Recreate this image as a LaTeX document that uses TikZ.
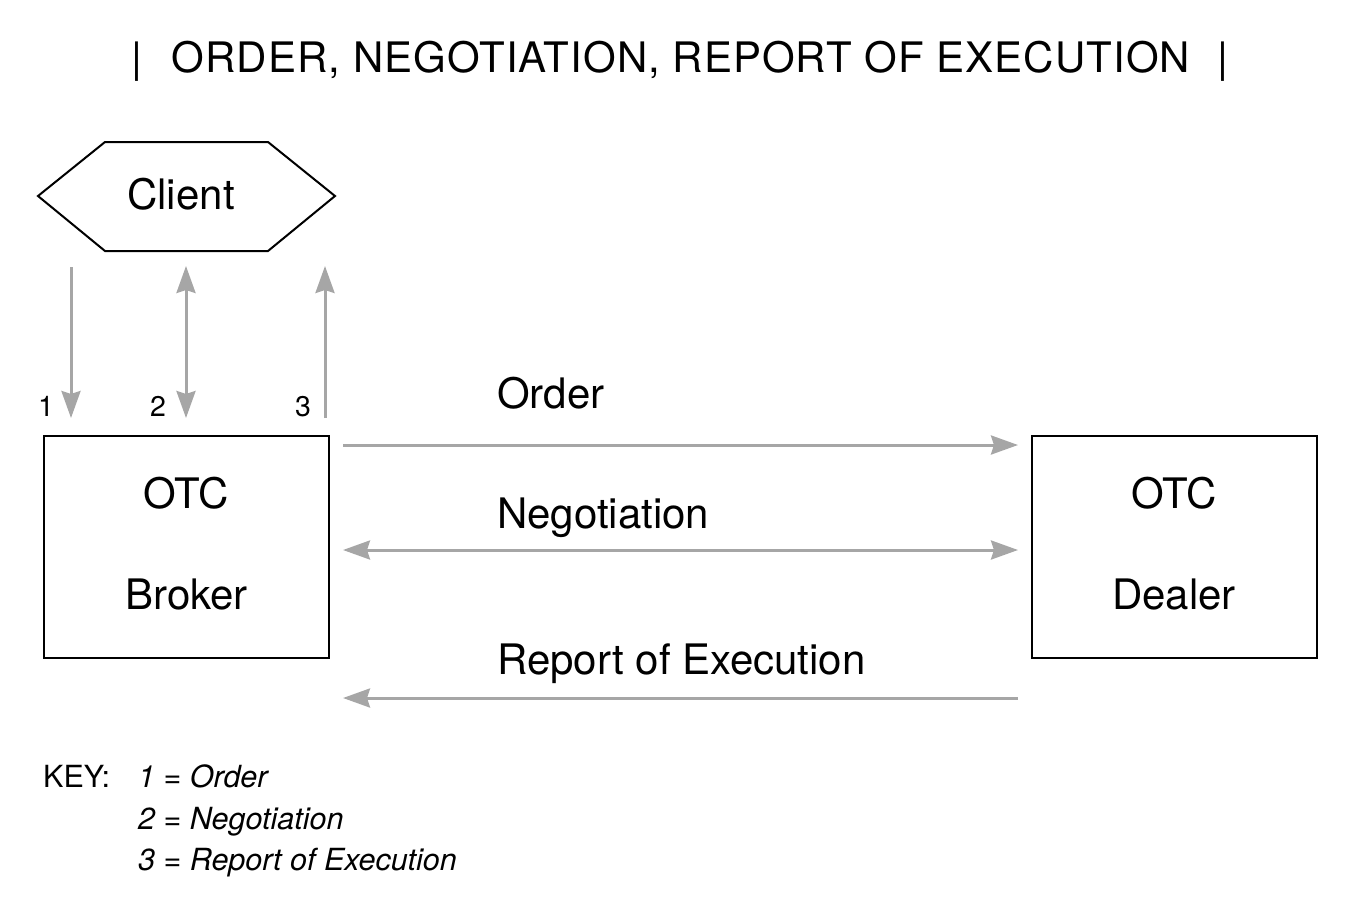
\documentclass[tikz,border=0pt]{standalone}
\usepackage{fontspec}
\setmainfont{TeX Gyre Heros}
\newfontfamily\titlefont[LetterSpace=2.5]{TeX Gyre Heros}
\usetikzlibrary{arrows.meta}
\definecolor{arrowgray}{RGB}{166,166,166}
\tikzset{
  flow/.style={draw=arrowgray, line width=3pt, -{Stealth[length=27pt,width=19pt,inset=3pt]}},
  flowboth/.style={draw=arrowgray, line width=3pt, {Stealth[length=27pt,width=19pt,inset=3pt]}-{Stealth[length=27pt,width=19pt,inset=3pt]}},
  party/.style={draw=black, line width=2pt, minimum width=285pt, minimum height=222pt, inner sep=0pt},
  bigtxt/.style={font=\fontsize{42}{48}\selectfont, anchor=base, inner sep=0pt},
  titletxt/.style={font=\titlefont\fontsize{42}{48}\selectfont, anchor=base, inner sep=0pt},
  smalltxt/.style={font=\fontsize{28.5}{32}\selectfont, anchor=base, inner sep=0pt},
  keytxt/.style={font=\fontsize{30.5}{34}\selectfont, anchor=base west, inner sep=0pt},
}
\begin{document}
\begin{tikzpicture}[x=1pt,y=-1pt]
\useasboundingbox (0,0) rectangle (1367,919);
% title
\node[titletxt] (title) at (681,72) {ORDER, NEGOTIATION, REPORT OF EXECUTION};
\node[titletxt] (barl) at (137,72) {|};
\node[titletxt] (barr) at (1223,72) {|};
% client hexagon
\draw[line width=2pt, line join=miter] (38,196) -- (105,142) -- (268,142) -- (335,196) -- (268,251) -- (105,251) -- cycle;
\node[bigtxt] (client) at (181,209) {Client};
% boxes
\node[party] (broker) at (186.5,547) {};
\node[party] (dealer) at (1174,547) {};
\node[bigtxt] (otcb) at (186.5,508) {OTC};
\node[bigtxt] (brokertxt) at (186.5,609) {Broker};
\node[bigtxt] (otcd) at (1174,508) {OTC};
\node[bigtxt] (dealertxt) at (1174,609) {Dealer};
% vertical arrows
\coordinate (a1t) at (71,267); \coordinate (a1b) at (71,418);
\coordinate (a2t) at (186,266); \coordinate (a2b) at (186,418);
\coordinate (a3t) at (325,266); \coordinate (a3b) at (325,418);
\draw[flow] (a1t) -- (a1b);
\draw[flowboth] (a2t) -- (a2b);
\draw[flow] (a3b) -- (a3t);
\node[smalltxt] (n1) at (46,416) {1};
\node[smalltxt] (n2) at (158,416) {2};
\node[smalltxt] (n3) at (303,416) {3};
% horizontal arrows
\coordinate (ob) at (343,445); \coordinate (od) at (1018,445);
\coordinate (nb) at (343,550); \coordinate (nd) at (1018,550);
\coordinate (rb) at (343,698); \coordinate (rd) at (1018,698);
\draw[flow] (ob) -- (od);
\draw[flowboth] (nb) -- (nd);
\draw[flow] (rd) -- (rb);
\node[bigtxt, anchor=base west] (lorder) at (497,408) {Order};
\node[bigtxt, anchor=base west] (lneg) at (497,528) {Negotiation};
\node[bigtxt, anchor=base west] (lrep) at (497,674) {Report of Execution};
% key
\node[keytxt] (key) at (43,787) {KEY:};
\node[keytxt] (k1) at (138,787) {\itshape 1 = Order};
\node[keytxt] (k2) at (138,829) {\itshape 2 = Negotiation};
\node[keytxt] (k3) at (138,870) {\itshape 3 = Report of Execution};
\end{tikzpicture}
\end{document}
